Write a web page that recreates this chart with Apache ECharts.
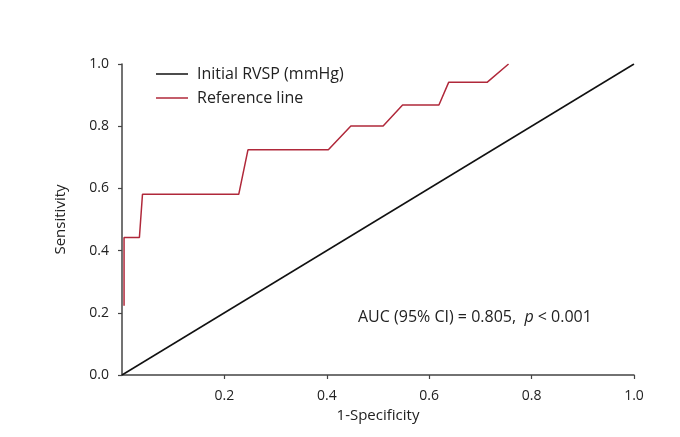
<!DOCTYPE html>
<html>
<head>
<meta charset="utf-8">
<script src="https://cdn.jsdelivr.net/npm/echarts@6/dist/echarts.min.js"></script>
<style>
html,body{margin:0;padding:0;background:#fff;}
#chart{width:680px;height:437px;}
</style>
</head>
<body>
<div id="chart"></div>
<script>
// ROC curve (red) points: 1-Specificity and Sensitivity
const rocX = [0.004, 0.004, 0.034, 0.040, 0.228, 0.246, 0.403, 0.447, 0.510, 0.548, 0.619, 0.638, 0.713, 0.755];
const rocY = [0.223, 0.442, 0.442, 0.581, 0.581, 0.724, 0.724, 0.801, 0.801, 0.868, 0.868, 0.941, 0.941, 1.0];
// diagonal (black)
const diagX = [0, 1];
const diagY = [0, 1];
const seriesNames = ['Initial RVSP (mmHg)', 'Reference line'];
const annotation = 'AUC (95% CI) = 0.805,';
const FONT = '"Open Sans", sans-serif';

const chart = echarts.init(document.getElementById('chart'));
const zip = (a, b) => a.map((v, i) => [v, b[i]]);
chart.setOption({
  animation: false,
  backgroundColor: '#fff',
  grid: {left: 122, right: 46, top: 64, bottom: 62},
  legend: {
    orient: 'vertical', left: 151, top: 61,
    itemWidth: 32, itemHeight: 1.5, itemGap: 8, icon: 'rect',
    textStyle: {fontFamily: FONT, fontSize: 16, color: '#222', padding: [0, 0, 0, 4]},
    data: seriesNames
  },
  xAxis: {
    type: 'value', min: 0, max: 1, interval: 0.2,
    name: '1-Specificity', nameLocation: 'middle', nameGap: 31,
    nameTextStyle: {fontFamily: FONT, fontSize: 15, color: '#222'},
    axisLine: {show: true, lineStyle: {color: '#444', width: 1.5}},
    axisTick: {show: true, length: 4, lineStyle: {color: '#444', width: 1.2}},
    axisLabel: {showMinLabel: false, fontFamily: FONT, fontSize: 14, color: '#222', margin: 14,
      formatter: v => v.toFixed(1)},
    splitLine: {show: false}
  },
  yAxis: {
    type: 'value', min: 0, max: 1, interval: 0.2,
    name: 'Sensitivity', nameLocation: 'middle', nameGap: 54,
    nameTextStyle: {fontFamily: FONT, fontSize: 15, color: '#222'},
    axisLine: {show: true, lineStyle: {color: '#444', width: 1.5}},
    axisTick: {show: true, length: 4, lineStyle: {color: '#444', width: 1.2}},
    axisLabel: {fontFamily: FONT, fontSize: 14, color: '#222', margin: 13,
      formatter: v => v.toFixed(1)},
    splitLine: {show: false}
  },
  series: [
    {name: seriesNames[0], type: 'line', data: zip(diagX, diagY), showSymbol: false,
     color: '#111', lineStyle: {color: '#111', width: 1.5}},
    {name: seriesNames[1], type: 'line', data: zip(rocX, rocY), showSymbol: false,
     color: '#b0283a', lineStyle: {color: '#b0283a', width: 1.5}}
  ],
  graphic: [{
    type: 'text', left: 358, top: 309,
    style: {
      text: annotation + '  {i|p} < 0.001',
      fontFamily: FONT, fontSize: 16, fill: '#222',
      rich: {i: {fontFamily: FONT, fontSize: 16, fontStyle: 'italic', fill: '#222'}}
    }
  }]
});
</script>
</body>
</html>
